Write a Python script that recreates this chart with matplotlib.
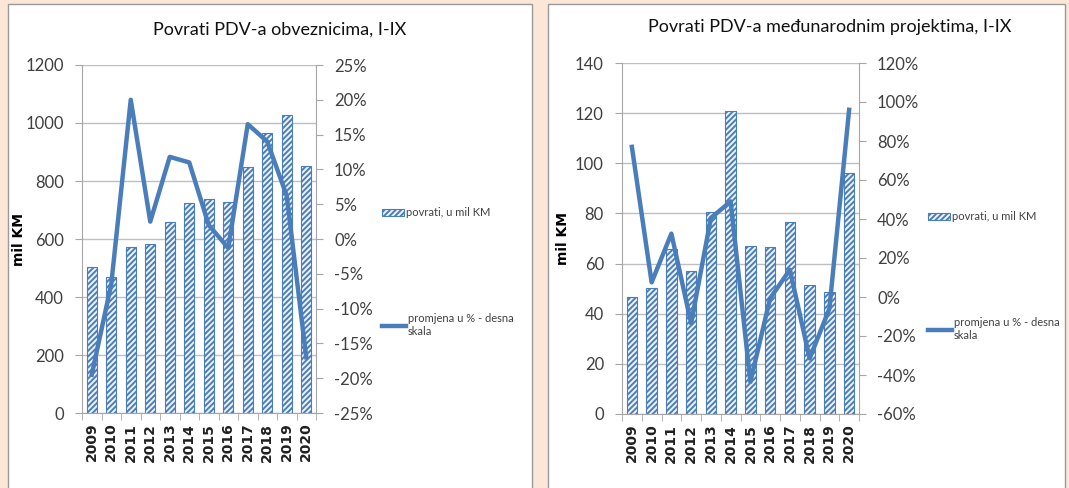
import numpy as np
import matplotlib.pyplot as plt
import matplotlib.patches as mpatches
from matplotlib.lines import Line2D
from matplotlib.ticker import FuncFormatter

plt.rcParams['font.family'] = ['Lato', 'DejaVu Sans']
plt.rcParams['hatch.linewidth'] = 1.4

# Data
years = ['2009', '2010', '2011', '2012', '2013', '2014',
         '2015', '2016', '2017', '2018', '2019', '2020']

# left chart: refunds to taxpayers (mil KM) and change in %
obv_values = [502, 468, 571, 584, 657, 724, 739, 726, 847, 965, 1026, 850]
obv_change = [-19.5, -6.5, 20.0, 2.5, 11.8, 11.0, 2.0, -1.3, 16.5, 14.0, 6.2, -17.0]

# right chart: refunds to international projects (mil KM) and change in %
proj_values = [46.5, 50.3, 66.0, 57.0, 80.7, 120.7, 67.2, 66.7, 76.5, 51.6, 48.7, 96.3]
proj_change = [77.0, 7.5, 32.5, -13.5, 40.5, 49.0, -43.5, -0.7, 14.0, -31.5, -6.0, 96.0]

titles = ['Povrati PDV-a obveznicima, I-IX',
          'Povrati PDV-a međunarodnim projektima, I-IX']
bar_label = 'povrati, u mil KM'
line_label = 'promjena u % - desna\nskala'

# Colours
blue = '#4a7ebb'
bar_fill = '#eef3fa'
grid_gray = '#bfbfbf'
text_gray = '#404040'
peach = '#fbe6d8'

fig = plt.figure(figsize=(10.69, 4.88), dpi=100)
fig.patch.set_facecolor(peach)

# white panels with a thin gray border
for x0, x1 in [(8, 532), (548, 1065)]:
    fig.patches.append(mpatches.Rectangle((x0 / 1069, -0.01), (x1 - x0) / 1069, 1 - 4 / 488 + 0.01,
                                          transform=fig.transFigure, facecolor='white',
                                          edgecolor='#9a9a9a', linewidth=1.0, zorder=-5))


def draw_panel(rect, values, change, title, ymax, ystep, pmin, pmax, pstep,
               title_xy, ylabel_x, legend_x, legend_y1, legend_y2):
    ax = fig.add_axes(rect)
    ax.set_facecolor('none')
    x = np.arange(len(years))
    ax.bar(x, values, width=0.52, color=bar_fill, edgecolor=blue,
           hatch='//////', linewidth=0.8, zorder=2)
    ax.set_xlim(-0.5, len(years) - 0.5)
    ax.set_ylim(0, ymax)
    ax.set_yticks(np.arange(0, ymax + 1, ystep))
    ax.set_axisbelow(True)
    ax.grid(axis='y', color=grid_gray, linewidth=1.0)
    ax.set_xticks(x)
    ax.set_xticklabels(years, rotation=90, fontsize=10, fontweight='bold',
                       family='DejaVu Sans', color='#202020')
    ax.set_xticks(np.arange(-0.5, len(years)), minor=True)
    ax.tick_params(axis='x', which='major', length=0, pad=7)
    ax.tick_params(axis='x', which='minor', length=5, color='#a6a6a6')
    ax.tick_params(axis='y', labelsize=12, colors=text_gray, length=5,
                   color='#a6a6a6', pad=8)
    for s in ['top', 'right']:
        ax.spines[s].set_visible(False)
    for s in ['left', 'bottom']:
        ax.spines[s].set_color('#a6a6a6')
    ax.set_ylabel('mil KM', fontsize=10, fontweight='bold', family='DejaVu Sans',
                  color='black')
    ax.yaxis.set_label_coords(ylabel_x, 0.5)

    ax2 = ax.twinx()
    ax2.plot(x, change, color=blue, linewidth=3.2, zorder=3)
    ax2.set_ylim(pmin, pmax)
    ax2.set_yticks(np.arange(pmin, pmax + 0.1, pstep))
    ax2.yaxis.set_major_formatter(FuncFormatter(lambda v, p: '%d%%' % v))
    ax2.tick_params(axis='y', labelsize=12, colors=text_gray, length=5,
                    color='#a6a6a6', pad=8)
    for s in ['top', 'left', 'bottom']:
        ax2.spines[s].set_visible(False)
    ax2.spines['right'].set_color('#a6a6a6')

    fig.text(title_xy[0], title_xy[1], title, ha='center', va='center',
             fontsize=13, color='#111111')

    bar_handle = mpatches.Patch(facecolor=bar_fill, edgecolor=blue, hatch='//////',
                                linewidth=0.8)
    fig.legend([bar_handle], [bar_label], loc='center left',
               bbox_to_anchor=(legend_x, legend_y1), frameon=False, fontsize=8,
               handlelength=2.0, handleheight=0.6, handletextpad=0.2,
               labelcolor=text_gray)
    line_handle = Line2D([], [], color=blue, linewidth=3.2)
    fig.legend([line_handle], [line_label], loc='center left',
               bbox_to_anchor=(legend_x, legend_y2), frameon=False, fontsize=8,
               handlelength=2.2, handletextpad=0.1, labelcolor=text_gray)


draw_panel([82 / 1069, 1 - 413 / 488, 234 / 1069, 348 / 488],
           obv_values, obv_change, titles[0], 1200, 200, -25, 25, 5,
           (280 / 1069, 1 - 30 / 488), -0.24, 372 / 1069, 1 - 213 / 488, 1 - 325 / 488)

draw_panel([622 / 1069, 1 - 414 / 488, 237 / 1069, 351 / 488],
           proj_values, proj_change, titles[1], 140, 20, -60, 120, 20,
           (830 / 1069, 1 - 27 / 488), -0.22, 918 / 1069, 1 - 217 / 488, 1 - 329 / 488)

fig.savefig('out.png', dpi=100, facecolor=fig.get_facecolor())
